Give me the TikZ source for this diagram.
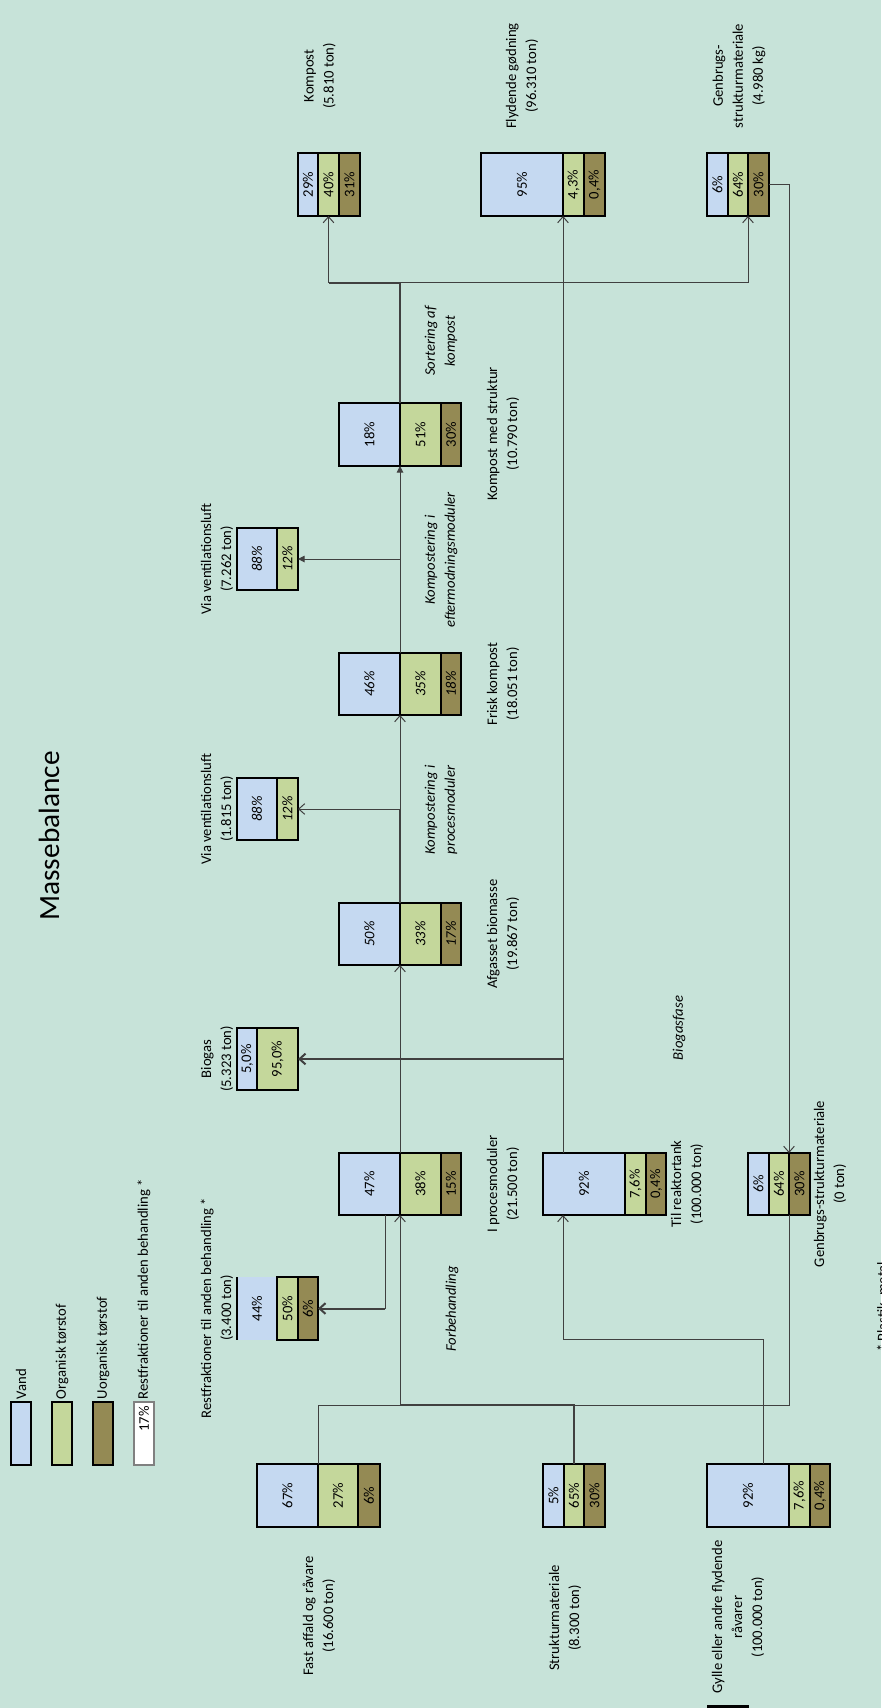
\documentclass[tikz,border=0pt]{standalone}
\usepackage{fontspec}
\setmainfont{Carlito}
\usetikzlibrary{arrows.meta}
\definecolor{bg}{RGB}{199,227,217}
\definecolor{cvand}{RGB}{197,217,241}
\definecolor{corg}{RGB}{196,215,155}
\definecolor{cuorg}{RGB}{148,138,84}
\definecolor{lnc}{RGB}{64,64,64}
\newcommand\mseg[7]{%
  \node[segbox, fill=#6, minimum width=#4*0.75pt, minimum height=#5*0.75pt, anchor=north west] (#1) at (#2,#3) {};
  \node[pct] at (#1.center) {#7};}
\begin{document}
\begin{tikzpicture}[x=0.75pt, y=-0.75pt, font=\fontsize{11}{15}\selectfont,
  segbox/.style={draw=black, line width=1.5pt, inner sep=0pt, outer sep=0pt},
  pct/.style={rotate=90, inner sep=0pt},
  lbl/.style={rotate=90, align=center, inner sep=0pt},
  proc/.style={lbl, font=\fontsize{11}{15}\selectfont\itshape},
  conn/.style={draw=lnc, line width=0.75pt},
  connthick/.style={draw=lnc, line width=1.5pt},
  oarr/.style={-{Straight Barb[length=4.5pt,width=8pt]}},
  farr/.style={-{Triangle[length=5pt,width=5pt]}}]
\fill[bg] (0,0) rectangle (881,1708);
\useasboundingbox (0,0) rectangle (881,1708);

% title
\node[pct, font=\fontsize{22}{26}\selectfont] (title) at (49,836) {Massebalance};

% legend
\node[segbox, fill=cvand, minimum width=20*0.75pt, minimum height=63*0.75pt, anchor=north west] (L1) at (11,1402) {};
\node[segbox, fill=corg, minimum width=20*0.75pt, minimum height=63*0.75pt, anchor=north west] (L2) at (52,1402) {};
\node[segbox, fill=cuorg, minimum width=20*0.75pt, minimum height=63*0.75pt, anchor=north west] (L3) at (93,1402) {};
\node[segbox, draw=black!50, fill=white, minimum width=20*0.75pt, minimum height=63*0.75pt, anchor=north west] (L4) at (134,1402) {};
\node[pct, anchor=east] (L4t) at ([yshift=-3pt]L4.north) {17\%};
\node[pct, anchor=west] (L1l) at ([yshift=2pt]L1.north) {Vand};
\node[pct, anchor=west] (L2l) at ([yshift=2pt]L2.north) {Organisk tørstof};
\node[pct, anchor=west] (L3l) at ([yshift=2pt]L3.north) {Uorganisk tørstof};
\node[pct, anchor=west] (L4l) at ([yshift=2pt]L4.north) {Restfraktioner til anden behandling *};

% input boxes
\mseg{A1}{257}{1464}{61}{63}{cvand}{67\%}
\mseg{A2}{318}{1464}{40}{63}{corg}{27\%}
\mseg{A3}{358}{1464}{22}{63}{cuorg}{6\%}
\mseg{B1}{543}{1464}{21}{63}{cvand}{5\%}
\mseg{B2}{564}{1464}{20}{63}{corg}{65\%}
\mseg{B3}{584}{1464}{21}{63}{cuorg}{30\%}
\mseg{C1}{707}{1464}{82}{63}{cvand}{92\%}
\mseg{C2}{789}{1464}{21}{63}{corg}{7,6\%}
\mseg{C3}{810}{1464}{20}{63}{cuorg}{0,4\%}

% middle row
\mseg{G01}{748}{1153}{21}{62}{cvand}{6\%}
\mseg{G02}{769}{1153}{20}{62}{corg}{64\%}
\mseg{G03}{789}{1153}{21}{62}{cuorg}{30\%}
\mseg{D1}{339}{1153}{61}{62}{cvand}{47\%}
\mseg{D2}{400}{1153}{41}{62}{corg}{38\%}
\mseg{D3}{441}{1153}{20}{62}{cuorg}{15\%}
\mseg{RT1}{543}{1153}{82}{62}{cvand}{92\%}
\mseg{RT2}{625}{1153}{21}{62}{corg}{7,6\%}
\mseg{RT3}{646}{1153}{20}{62}{cuorg}{0,4\%}

% restfraktioner
\node[fill=cvand, inner sep=0pt, outer sep=0pt, minimum width=40*0.75pt, minimum height=63*0.75pt, anchor=north west] (R1) at (237,1277) {};
\draw[line width=1.5pt] (R1.north west) -- (R1.south west);
\node[pct] at (R1.center) {44\%};
\mseg{R2}{277}{1277}{21}{63}{corg}{50\%}
\mseg{R3}{298}{1277}{20}{63}{cuorg}{6\%}

% biogas
\mseg{Bio1}{237}{1028}{20}{62}{cvand}{5,0\%}
\mseg{Bio2}{257}{1028}{41}{62}{corg}{95,0\%}

% afgasset
\mseg{AF1}{339}{903}{61}{62}{cvand}{\itshape 50\%}
\mseg{AF2}{400}{903}{41}{62}{corg}{\itshape 33\%}
\mseg{AF3}{441}{903}{20}{62}{cuorg}{\itshape 17\%}
% via 1
\mseg{V11}{237}{778}{40}{62}{cvand}{\itshape 88\%}
\mseg{V12}{277}{778}{21}{62}{corg}{\itshape 12\%}
% frisk
\mseg{FK1}{339}{653}{61}{62}{cvand}{\itshape 46\%}
\mseg{FK2}{400}{653}{41}{62}{corg}{\itshape 35\%}
\mseg{FK3}{441}{653}{20}{62}{cuorg}{\itshape 18\%}
% via 2
\mseg{V21}{237}{528}{40}{62}{cvand}{\itshape 88\%}
\mseg{V22}{277}{528}{21}{62}{corg}{\itshape 12\%}
% kompost med struktur
\mseg{KMS1}{339}{403}{61}{63}{cvand}{18\%}
\mseg{KMS2}{400}{403}{41}{63}{corg}{51\%}
\mseg{KMS3}{441}{403}{20}{63}{cuorg}{30\%}

% outputs
\mseg{KO1}{298}{153}{20}{63}{cvand}{29\%}
\mseg{KO2}{318}{153}{21}{63}{corg}{40\%}
\mseg{KO3}{339}{153}{21}{63}{cuorg}{31\%}
\mseg{FL1}{481}{153}{82}{63}{cvand}{95\%}
\mseg{FL2}{563}{153}{21}{63}{corg}{4,3\%}
\mseg{FL3}{584}{153}{21}{63}{cuorg}{0,4\%}
\mseg{GO1}{707}{153}{21}{63}{cvand}{6\%}
\mseg{GO2}{728}{153}{20}{63}{corg}{64\%}
\mseg{GO3}{748}{153}{21}{63}{cuorg}{30\%}

% labels
\node[lbl] (lKO) at (320,76) {Kompost\\(5.810 ton)};
\node[lbl] (lFL) at (522,76) {Flydende gødning\\(96.310 ton)};
\node[lbl] (lGO) at (739,76) {Genbrugs-\\strukturmateriale\\(4.980 kg)};
\node[lbl] (lKMS) at (503,434) {Kompost med struktur\\(10.790 ton)};
\node[lbl] (lFK) at (503,684) {Frisk kompost\\(18.051 ton)};
\node[lbl] (lAF) at (503,934) {Afgasset biomasse\\(19.867 ton)};
\node[lbl] (lD) at (503,1184) {I procesmoduler\\(21.500 ton)};
\node[lbl] (lRT) at (687,1184) {Til reaktortank\\(100.000 ton)};
\node[lbl] (lG0) at (830,1184) {Genbrugs-strukturmateriale\\(0 ton)};
\node[lbl] (lV2) at (217,559) {Via ventilationsluft\\(7.262 ton)};
\node[lbl] (lV1) at (217,809) {Via ventilationsluft\\(1.815 ton)};
\node[lbl] (lBio) at (217,1059) {Biogas\\(5.323 ton)};
\node[lbl] (lR) at (217,1308) {Restfraktioner til anden behandling *\\(3.400 ton)};
\node[lbl] (lA) at (319,1616) {Fast affald og råvare\\(16.600 ton)};
\node[lbl] (lB) at (565,1618) {Strukturmateriale\\(8.300 ton)};
\node[lbl] (lC) at (738,1617) {Gylle eller andre flydende\\råvarer\\(100.000 ton)};

\node[proc] (p1) at (452,1309) {Forbehandling};
\node[proc] (p2) at (441,810) {Kompostering i\\procesmoduler};
\node[proc] (p3) at (441,560) {Kompostering i\\eftermodningsmoduler};
\node[proc] (p4) at (441,341) {Sortering af\\kompost};
\node[proc] (p5) at (679,1028) {Biogasfase};

\node[pct, anchor=west] (foot) at (883,1352) {* Plastik, metal};
\fill[black] (707,1705) rectangle (749,1708);

% connectors
\coordinate (J1) at (400,1405);
\coordinate (J3) at (763,1339);
\coordinate (J4) at (400,283);
\draw[conn, oarr] (A1.north east) |- (J1) -- (D1.south east);
\draw[connthick] (B2.north) |- (J1);
\draw[conn] (B2.north |- J1) -| (G03.south west);
\draw[conn, oarr] (C1.north -| J3) -- (J3) -| (RT1.south -| FL1.south east);
\draw[conn] ([xshift=-11.25pt]D1.south east) -- ([xshift=-11.25pt]D1.south east |- R3.east);
\draw[connthick, oarr] ([xshift=-11.25pt]D1.south east |- R3.east) -- (R3.east);
\draw[conn, oarr] (D1.north east) -- (AF1.south east);
\draw[conn, oarr] (RT1.north -| FL1.south east) -- (FL1.south east);
\draw[connthick, oarr] (FL1.south east |- Bio2.east) -- (Bio2.east);
\draw[conn, oarr] (AF1.north east) -- (FK1.south east);
\draw[connthick] (AF1.north east) -- (AF1.north east |- V12.east);
\draw[conn, oarr] (AF1.north east |- V12.east) -- (V12.east);
\draw[conn, farr] (FK1.north east) -- (KMS1.south east);
\draw[conn, farr] (FK1.north east |- V22.east) -- (V22.east);
\draw[connthick] (KMS1.north east) -- (J4) -- (J4 -| KO2.south);
\draw[conn, oarr] (J4 -| KO2.south) -- (KO2.south);
\draw[conn, oarr] (J4) -| (GO2.south east);
\draw[conn, oarr] (GO3.east) -| (G03.north west);
\end{tikzpicture}
\end{document}
